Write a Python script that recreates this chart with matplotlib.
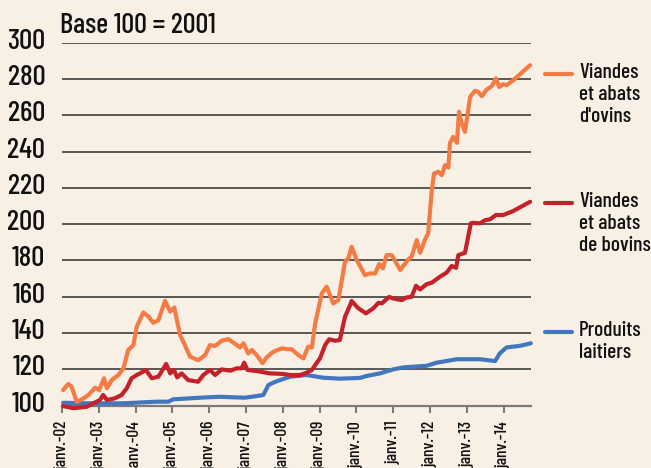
import matplotlib
matplotlib.use("Agg")
import matplotlib.pyplot as plt
import matplotlib.transforms as mtransforms
import numpy as np

# ---------------- data ----------------
title = "Base 100 = 2001"
year_ticks = list(range(2002, 2015))
tick_labels = ["janv.-%02d" % (y % 100) for y in year_ticks]
yticks = list(range(100, 301, 20))

ovins_t = [0.03, 0.17, 0.26, 0.40, 0.54, 0.72, 0.90, 1.01, 1.14, 1.22, 1.35, 1.53, 1.67,
           1.80, 1.94, 2.03, 2.21, 2.35, 2.48, 2.62, 2.80, 2.94, 3.05, 3.21, 3.34, 3.48,
           3.70, 3.89, 4.02, 4.16, 4.34, 4.52, 4.66, 4.84, 4.93, 5.06, 5.16, 5.29, 5.45,
           5.56, 5.74, 5.97, 6.15, 6.24, 6.42, 6.56, 6.69, 6.79, 6.88, 7.06, 7.19, 7.37,
           7.51, 7.69, 7.78, 7.87, 8.01, 8.23, 8.37, 8.51, 8.62, 8.72, 8.82, 8.96, 9.19,
           9.41, 9.50, 9.64, 9.73, 9.86, 9.95, 10.05, 10.11, 10.23, 10.32, 10.41, 10.50,
           10.54, 10.63, 10.73, 10.79, 10.86, 10.95, 11.01, 11.09, 11.22, 11.31, 11.41,
           11.54, 11.68, 11.79, 11.88, 11.98, 12.08, 12.26, 12.49, 12.72]
ovins_v = [108.5, 111.8, 110.4, 102.0, 103.4, 105.8, 109.8, 108.5, 115.0, 109.5, 114.0,
           116.8, 120.5, 130.6, 133.3, 143.4, 151.3, 149.0, 145.6, 147.0, 157.7, 151.7,
           154.0, 138.8, 133.3, 126.9, 125.0, 127.8, 133.3, 132.8, 135.7, 136.6, 134.6,
           132.0, 134.3, 128.7, 130.6, 127.8, 123.3, 126.5, 129.6, 131.5, 131.0, 131.0,
           127.8, 126.0, 132.4, 132.0, 145.3, 161.8, 165.5, 156.3, 158.1, 179.2, 181.1,
           187.5, 180.2, 171.9, 172.8, 172.8, 178.0, 175.6, 182.9, 182.9, 174.7, 180.5,
           182.0, 191.2, 184.2, 191.2, 195.0, 219.0, 227.9, 228.8, 227.0, 232.5, 231.2,
           244.5, 248.1, 244.8, 261.9, 255.5, 250.9, 259.1, 270.1, 273.4, 272.9, 270.5,
           274.2, 276.0, 280.3, 275.6, 277.1, 276.6, 279.3, 283.4, 287.6]

bovins_t = [0.03, 0.31, 0.67, 0.85, 1.03, 1.12, 1.22, 1.44, 1.62, 1.76, 1.89, 2.03, 2.12,
            2.28, 2.44, 2.62, 2.74, 2.83, 2.94, 3.04, 3.13, 3.25, 3.43, 3.70, 3.84, 4.02,
            4.16, 4.34, 4.57, 4.75, 4.88, 4.95, 5.04, 5.29, 5.65, 6.01, 6.20, 6.47, 6.65,
            6.79, 6.88, 7.01, 7.15, 7.26, 7.42, 7.55, 7.69, 7.83, 7.87, 8.05, 8.26, 8.46,
            8.60, 8.69, 8.89, 9.00, 9.23, 9.37, 9.50, 9.62, 9.73, 9.91, 10.05, 10.27,
            10.45, 10.59, 10.71, 10.77, 10.95, 11.11, 11.18, 11.36, 11.50, 11.63, 11.79,
            11.99, 12.26, 12.72]
bovins_v = [99.7, 98.5, 99.3, 101.2, 103.0, 105.8, 103.0, 104.0, 105.8, 109.5, 115.0,
            116.8, 117.7, 119.6, 115.0, 115.9, 119.9, 122.9, 117.7, 119.6, 115.5, 117.7,
            114.0, 113.1, 116.8, 119.6, 116.8, 119.9, 119.2, 120.5, 120.5, 123.6, 119.6,
            119.0, 117.7, 117.4, 116.8, 116.8, 118.1, 119.6, 122.3, 126.0, 133.3, 136.5,
            135.7, 136.1, 148.9, 155.4, 157.6, 153.6, 150.8, 153.6, 156.6, 156.3, 159.9,
            159.0, 158.1, 159.6, 159.9, 166.0, 164.0, 166.9, 167.7, 171.0, 173.2, 176.9,
            175.9, 182.9, 184.2, 200.4, 200.7, 200.4, 202.2, 202.6, 205.0, 205.0, 207.2,
            212.3]

lait_t = [0.03, 0.76, 1.67, 2.57, 2.89, 3.02, 3.93, 4.29, 4.97, 5.29, 5.47, 5.61, 5.74,
          5.92, 6.20, 6.65, 7.10, 7.55, 8.10, 8.28, 8.64, 9.00, 9.27, 9.91, 10.18, 10.73,
          11.36, 11.77, 11.90, 12.08, 12.45, 12.74]
lait_v = [101.5, 101.2, 101.2, 102.1, 102.1, 103.4, 104.5, 104.8, 104.3, 105.2, 105.8,
          111.3, 112.6, 114.0, 115.9, 116.8, 115.3, 114.8, 115.2, 116.3, 117.7, 119.9,
          121.0, 121.9, 123.6, 125.5, 125.5, 124.5, 128.8, 132.0, 132.9, 134.3]

series_labels = ["Viandes\net abats\nd'ovins", "Viandes\net abats\nde bovins",
                 "Produits\nlaitiers"]

# ---------------- style ----------------
BG = "#F8F0E4"
C_OV = "#F47B44"
C_BO = "#C4212B"
C_LA = "#4277C0"
FONT = ["Barlow Condensed", "Roboto Condensed", "Fira Sans Condensed",
        "Asap Condensed", "PT Sans Narrow", "Liberation Sans Narrow", "DejaVu Sans"]
plt.rcParams["font.family"] = FONT
plt.rcParams["font.weight"] = 500

W, H = 651, 468
fig = plt.figure(figsize=(W / 100, H / 100), dpi=100, facecolor=BG)
ax = fig.add_axes([62 / W, (H - 405.5) / H, (531 - 62) / W, (405.5 - 42.7) / H])
ax.set_facecolor(BG)

x0 = 2002
ax.set_xlim(x0, x0 + 469 / 36.8)
ax.set_ylim(100, 300)

for yv in yticks[1:]:
    ax.axhline(yv, color="#2e2e2e", lw=1.1, zorder=1)

for t, v, c in [(lait_t, lait_v, C_LA), (bovins_t, bovins_v, C_BO), (ovins_t, ovins_v, C_OV)]:
    ax.plot(np.array(t) + x0, v, color=c, lw=3.0, solid_capstyle="round",
            solid_joinstyle="round", zorder=3, clip_on=False)

for s in ["top", "right", "left"]:
    ax.spines[s].set_visible(False)
ax.spines["bottom"].set_color("#7a7a7a")
ax.spines["bottom"].set_linewidth(1.6)
ax.spines["bottom"].set_zorder(2)

ax.set_yticks(yticks)
ax.set_yticklabels([str(v) for v in yticks], fontsize=21, color="#111111")
ax.tick_params(axis="y", length=0, pad=12)
off = mtransforms.ScaledTranslation(0, 4 / 100, fig.dpi_scale_trans)
for lab in ax.get_yticklabels():
    lab.set_transform(lab.get_transform() + off)

ax.set_xticks(year_ticks)
ax.set_xticklabels(tick_labels, rotation=90, fontsize=12.5, color="#111111")
ax.tick_params(axis="x", direction="out", length=5, width=1.5, color="#7a7a7a", pad=6)

fig.text(60 / W, (H - 33) / H, title, fontsize=20.5, color="#111111",
         ha="left", va="baseline")

# legend
for yl, lab, c in [(74, series_labels[0], C_OV), (203, series_labels[1], C_BO),
                   (332, series_labels[2], C_LA)]:
    fig.add_artist(plt.Line2D([545 / W, 572 / W], [(H - yl) / H] * 2, color=c, lw=3,
                              solid_capstyle="round"))
    fig.text(579 / W, (H - yl + 11) / H, lab, fontsize=15.5, color="#111111",
             ha="left", va="top", linespacing=1.2)

fig.savefig("out.png", dpi=100, facecolor=BG)
